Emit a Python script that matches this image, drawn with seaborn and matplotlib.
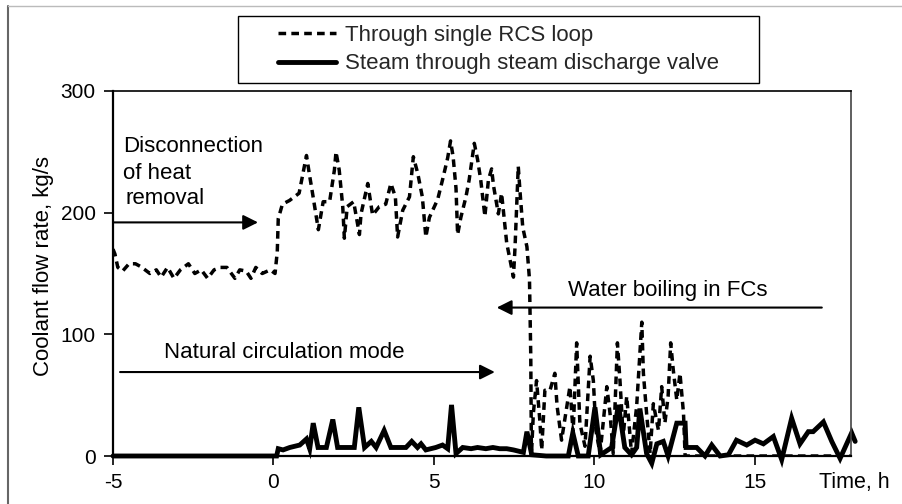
import matplotlib
matplotlib.use("Agg")
import matplotlib.pyplot as plt
import pandas as pd
import seaborn as sns
from matplotlib.patches import Rectangle
from matplotlib.lines import Line2D

# ---------------- data ----------------
rcs_time = [-5.0, -4.94, -4.85, -4.7, -4.5, -4.3, -4.16, -4.0, -3.85, -3.65, -3.5, -3.3, -3.1, -2.9,
            -2.65, -2.45, -2.25, -2.05, -1.85, -1.65, -1.45, -1.2, -1.05, -0.85, -0.7, -0.55, -0.35,
            -0.1, 0.05,
            0.12, 0.15, 0.28, 0.5, 0.8, 1.03, 1.13, 1.2, 1.32, 1.4, 1.55, 1.75, 1.9, 1.95, 2.05, 2.16,
            2.21, 2.3, 2.5, 2.68, 2.73, 2.94, 3.09, 3.3, 3.5, 3.66, 3.8, 3.87, 4.03, 4.24, 4.36, 4.5,
            4.64, 4.75, 4.86, 5.12, 5.27, 5.43, 5.52, 5.6, 5.69, 5.74, 5.84, 6.0, 6.1, 6.26, 6.36,
            6.46, 6.59, 6.7, 6.8, 6.86, 7.01, 7.11, 7.22, 7.27, 7.48, 7.53, 7.63, 7.68, 7.77, 7.9,
            7.98, 8.02, 8.04, 8.1, 8.2, 8.3, 8.36, 8.46, 8.62, 8.77, 8.84, 8.98, 9.08, 9.24, 9.34,
            9.45, 9.55, 9.71, 9.87, 9.97, 10.05, 10.18, 10.39, 10.49, 10.59, 10.72, 10.8, 10.9,
            11.01, 11.16, 11.32, 11.48, 11.53, 11.63, 11.74, 11.84, 12.0, 12.1, 12.2, 12.3, 12.38,
            12.46, 12.57, 12.67, 12.78, 12.83, 18.0]
rcs_flow = [170, 166, 155, 152, 158, 158, 156, 153, 150, 153, 147, 155, 146, 153,
            158, 150, 153, 146, 153, 155, 155, 146, 153, 152, 146, 155, 150,
            153, 150,
            168, 195, 207, 210, 216, 247, 230, 219, 199, 186, 209, 209, 235, 250, 235, 205,
            179, 205, 209, 182, 199, 224, 198, 205, 207, 224, 213, 180, 202, 213, 246, 232,
            213, 180, 196, 211, 227, 245, 259, 246, 220, 182, 196, 213, 227, 257, 244,
            227, 197, 227, 236, 222, 199, 216, 188, 175, 147, 172, 238, 219, 188, 172,
            145, 82, 0, 35, 62, 30, 5, 54, 54, 68, 41, 13, 30, 57, 19,
            93, 27, 8, 82, 62, 21, 2, 57, 35, 2, 93, 62, 16,
            49, 2, 41, 110, 68, 35, 2, 43, 21, 57, 27, 49, 93,
            71, 46, 68, 35, 0, 0]

steam_time = [-5.0, 0.1, 0.15, 0.3, 0.51, 0.82, 1.03, 1.13, 1.24, 1.39, 1.65, 1.85, 2.0, 2.52, 2.66,
              2.84, 3.05, 3.2, 3.45, 3.66, 4.13, 4.31, 4.49, 4.6, 4.75, 5.06, 5.27, 5.43, 5.55, 5.69,
              5.9, 6.16, 6.36, 6.62, 6.84, 7.05, 7.27, 7.48, 7.79, 7.9, 8.05, 8.5, 9.19, 9.33, 9.5,
              9.81, 10.02, 10.2, 10.54, 10.75, 10.95, 11.16, 11.32, 11.42, 11.63, 11.79, 11.95,
              12.15, 12.3, 12.57, 12.83, 12.86, 13.19, 13.45, 13.66, 13.92, 14.18, 14.43, 14.75,
              15.01, 15.27, 15.58, 15.84, 16.15, 16.41, 16.67, 16.82, 17.14, 17.4, 17.66, 18.02,
              18.13]
steam_flow = [0, 0, 6, 5, 7, 9, 14, 6, 27, 7, 7, 30, 7, 7, 40,
              7, 12, 7, 21, 7, 7, 12, 7, 10, 5, 7, 9, 6, 42, 2,
              7, 6, 7, 6, 7, 6, 6, 5, 3, 20, 1, 0, 0, 19, 0,
              0, 40, 1, 7, 42, 7, 1, 7, 39, 2, -6, 10,
              12, 0, 27, 27, 7, 7, 0, 9, 0, 1, 13, 9,
              13, 10, 16, -3, 31, 10, 20, 20, 28, 12, -2, 19,
              12]

series_labels = ["Through single RCS loop", "Steam through steam discharge valve"]
x_ticks = [-5, 0, 5, 10, 15]
y_ticks = [0, 100, 200, 300]
x_label = "Time, h"
y_label = "Coolant flow rate, kg/s"
note_disconnect = ["Disconnection", "of heat", "removal"]
note_natural = "Natural circulation mode"
note_boiling = "Water boiling in FCs"

# ---------------- figure ----------------
sns.set_theme(style="ticks")
plt.rcParams["font.family"] = ["Liberation Sans", "DejaVu Sans"]

W, H = 903, 504
fig = plt.figure(figsize=(W / 100, H / 100), dpi=100)
ax = fig.add_axes([113 / W, 1 - 456 / H, 738 / W, 365 / H])

rcs_df = pd.DataFrame({"t": rcs_time, "q": rcs_flow})
steam_df = pd.DataFrame({"t": steam_time, "q": steam_flow})

sns.lineplot(data=rcs_df, x="t", y="q", ax=ax, estimator=None, sort=False,
             color="black", linewidth=2.5, linestyle=(0, (2.2, 1.5)),
             label=series_labels[0])
sns.lineplot(data=steam_df, x="t", y="q", ax=ax, estimator=None, sort=False,
             color="black", linewidth=3.5, solid_joinstyle="miter",
             label=series_labels[1], clip_on=False)

handles, labels = ax.get_legend_handles_labels()
if ax.get_legend() is not None:
    ax.get_legend().remove()

ax.set_xlim(-5, 18)
ax.set_ylim(0, 300)
ax.set_xticks(x_ticks)
ax.set_yticks(y_ticks)
ax.set_xticklabels([str(v) for v in x_ticks])
ax.set_yticklabels([str(v) for v in y_ticks])
ax.tick_params(axis="both", direction="out", length=6.5, width=1.2, color="black",
               labelsize=15, labelcolor="black")
ax.tick_params(axis="y", pad=6)
ax.tick_params(axis="x", pad=6)

for side in ["left", "bottom"]:
    ax.spines[side].set_color("black")
    ax.spines[side].set_linewidth(1.6)
ax.spines["top"].set_color("black")
ax.spines["top"].set_linewidth(1.2)
ax.spines["right"].set_color("#444444")
ax.spines["right"].set_linewidth(1.2)
ax.spines["top"].set_visible(True)
ax.spines["right"].set_visible(True)

ax.set_xlabel(x_label, fontsize=15.5, color="black")
ax.xaxis.set_label_coords((854 - 113) / 738, (456 - 472) / 365)
ax.set_ylabel(y_label, fontsize=16, color="black")
ax.yaxis.set_label_coords((54 - 113) / 738, 0.52)

# annotations
arrow_kw = dict(arrowstyle="-|>,head_length=0.9,head_width=0.45", color="black",
                lw=1.5, shrinkA=0, shrinkB=0, mutation_scale=10)
ax.annotate("", xy=(-0.48, 192), xytext=(-5.0, 192), arrowprops=arrow_kw,
            annotation_clip=False)
ax.annotate("", xy=(6.9, 69), xytext=(-4.78, 69), arrowprops=arrow_kw)
ax.annotate("", xy=(6.96, 122), xytext=(17.09, 122), arrowprops=arrow_kw)

for txt, yv, xv in zip(note_disconnect, [254, 232, 212], [-4.69, -4.69, -4.6]):
    ax.text(xv, yv, txt, fontsize=16, ha="left", va="center", color="black")
ax.text(-3.41, 85, note_natural, fontsize=16, ha="left", va="center", color="black")
ax.text(9.18, 136, note_boiling, fontsize=16, ha="left", va="center", color="black")

# legend with a square black frame
fig.legend(handles, labels, loc="center", bbox_to_anchor=(498.5 / W, 1 - 49.4 / H),
           frameon=False, fontsize=16, handlelength=2.6, handletextpad=0.4,
           labelspacing=0.35)
fig.add_artist(Rectangle((238 / W, 1 - 83 / H), 521 / W, 67.3 / H,
                         transform=fig.transFigure, fill=False,
                         edgecolor="black", linewidth=1.0))

# outer frame lines
fig.add_artist(Line2D([7.5 / W, 7.5 / W], [0, 1 - 6 / H], transform=fig.transFigure,
                      color="#666666", linewidth=1.5))
fig.add_artist(Line2D([7.5 / W, 1], [1 - 6 / H, 1 - 6 / H], transform=fig.transFigure,
                      color="#bbbbbb", linewidth=1.0))

fig.savefig("out.png", dpi=100)
